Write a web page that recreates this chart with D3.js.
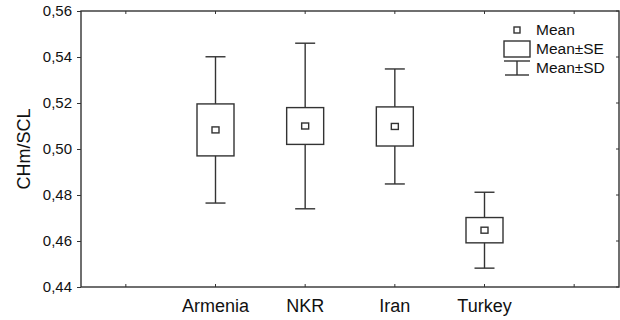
<!DOCTYPE html>
<html>
<head>
<meta charset="utf-8">
<script src="https://cdn.jsdelivr.net/npm/d3@7"></script>
<style>
  html, body { margin: 0; padding: 0; background: #fff; }
  svg { display: block; font-family: "Liberation Sans", Arial, sans-serif; }
</style>
</head>
<body>
<svg id="chart" width="620" height="320"></svg>
<script>
// data
const groups = ['Armenia', 'NKR', 'Iran', 'Turkey']
const means = [0.5083, 0.5100, 0.5098, 0.4647]
const se = [0.0113, 0.0080, 0.0085, 0.0055]
const sd = [0.0318, 0.0360, 0.0250, 0.0165]
const yTicks = [0.44, 0.46, 0.48, 0.50, 0.52, 0.54, 0.56]
const legendLabels = ['Mean', 'Mean±SE', 'Mean±SD']

const plotLeft = 81, plotRight = 619, plotTop = 11, plotBottom = 287
const lineCol = '#333'
const textCol = '#111'
const boxWidth = 37
const capWidth = 20

let svg = d3.select('#chart')

// empty slot on each side like the original plot
let slots = ['pad0', ...groups, 'pad1']
let xScale = d3.scaleBand().domain(slots).range([plotLeft, plotRight])
let yScale = d3.scaleLinear().domain([0.44, 0.56]).range([plotBottom, plotTop])
let cx = (g) => xScale(g) + xScale.bandwidth() / 2
let fmt = (v) => d3.format('.2f')(v).replace('.', ',')

// frame
svg.append('rect')
  .attr('x', plotLeft).attr('y', plotTop)
  .attr('width', plotRight - plotLeft).attr('height', plotBottom - plotTop)
  .style('fill', 'none').style('stroke', lineCol).style('stroke-width', 1.4)

// left axis
let yAxis = svg.append('g')
  .attr('transform', `translate(${plotLeft},0)`)
  .call(d3.axisLeft(yScale).tickValues(yTicks).tickFormat(fmt).tickSize(4).tickPadding(5))
yAxis.select('.domain').remove()
yAxis.selectAll('.tick line').style('stroke', lineCol)
yAxis.selectAll('.tick text')
  .style('font-size', '15px').style('fill', textCol).style('font-family', 'inherit')

// inner ticks on right side
svg.append('g').selectAll('line').data(yTicks).enter().append('line')
  .attr('x1', plotRight - 3).attr('x2', plotRight)
  .attr('y1', (d) => yScale(d)).attr('y2', (d) => yScale(d))
  .style('stroke', lineCol)

// bottom axis
let xAxis = svg.append('g')
  .attr('transform', `translate(0,${plotBottom})`)
  .call(d3.axisBottom(xScale).tickFormat((d) => d.startsWith('pad') ? '' : d).tickSizeInner(-3).tickSizeOuter(0).tickPadding(12))
xAxis.select('.domain').remove()
xAxis.selectAll('.tick line').style('stroke', lineCol)
xAxis.selectAll('.tick text')
  .style('font-size', '18px').style('fill', textCol).style('font-family', 'inherit')

// inner ticks along top
svg.append('g').selectAll('line').data(slots).enter().append('line')
  .attr('x1', cx).attr('x2', cx)
  .attr('y1', plotTop).attr('y2', plotTop + 3)
  .style('stroke', lineCol)

// y title
svg.append('text')
  .attr('transform', `translate(30,${(plotTop + plotBottom) / 2}) rotate(-90)`)
  .style('text-anchor', 'middle')
  .style('font-size', '18px')
  .style('fill', textCol)
  .text('CHm/SCL')

// boxes
let rows = groups.map((g, i) => ({ g: g, m: means[i], se: se[i], sd: sd[i] }))
let box = svg.append('g').selectAll('g').data(rows).enter().append('g')
  .style('stroke', lineCol).style('stroke-width', 1.4).style('fill', 'none')

box.append('line')
  .attr('x1', (d) => cx(d.g)).attr('x2', (d) => cx(d.g))
  .attr('y1', (d) => yScale(d.m + d.sd)).attr('y2', (d) => yScale(d.m - d.sd))
box.append('line')
  .attr('x1', (d) => cx(d.g) - capWidth / 2).attr('x2', (d) => cx(d.g) + capWidth / 2)
  .attr('y1', (d) => yScale(d.m + d.sd)).attr('y2', (d) => yScale(d.m + d.sd))
box.append('line')
  .attr('x1', (d) => cx(d.g) - capWidth / 2).attr('x2', (d) => cx(d.g) + capWidth / 2)
  .attr('y1', (d) => yScale(d.m - d.sd)).attr('y2', (d) => yScale(d.m - d.sd))
box.append('rect')
  .attr('x', (d) => cx(d.g) - boxWidth / 2)
  .attr('y', (d) => yScale(d.m + d.se))
  .attr('width', boxWidth)
  .attr('height', (d) => yScale(d.m - d.se) - yScale(d.m + d.se))
  .style('fill', '#fff')
box.append('rect')
  .attr('x', (d) => cx(d.g) - 3.5)
  .attr('y', (d) => yScale(d.m) - 3)
  .attr('width', 7).attr('height', 6)
  .style('fill', '#fff')

// legend
let lg = svg.append('g').attr('transform', 'translate(504,0)')
  .style('stroke', lineCol).style('stroke-width', 1.4).style('fill', 'none')
lg.append('rect').attr('x', 10).attr('y', 27).attr('width', 6).attr('height', 6)
lg.append('rect').attr('x', 0).attr('y', 41).attr('width', 26).attr('height', 16)
lg.append('line').attr('x1', 0).attr('x2', 26).attr('y1', 61).attr('y2', 61)
lg.append('line').attr('x1', 13).attr('x2', 13).attr('y1', 61).attr('y2', 75)
lg.append('line').attr('x1', 1).attr('x2', 25).attr('y1', 75).attr('y2', 75)
svg.append('g').selectAll('text').data(legendLabels).enter().append('text')
  .attr('x', 536)
  .attr('y', (d, i) => 30 + i * 19)
  .attr('dy', '0.35em')
  .style('font-size', '15.5px')
  .style('fill', textCol)
  .text((d) => d)
</script>
</body>
</html>
